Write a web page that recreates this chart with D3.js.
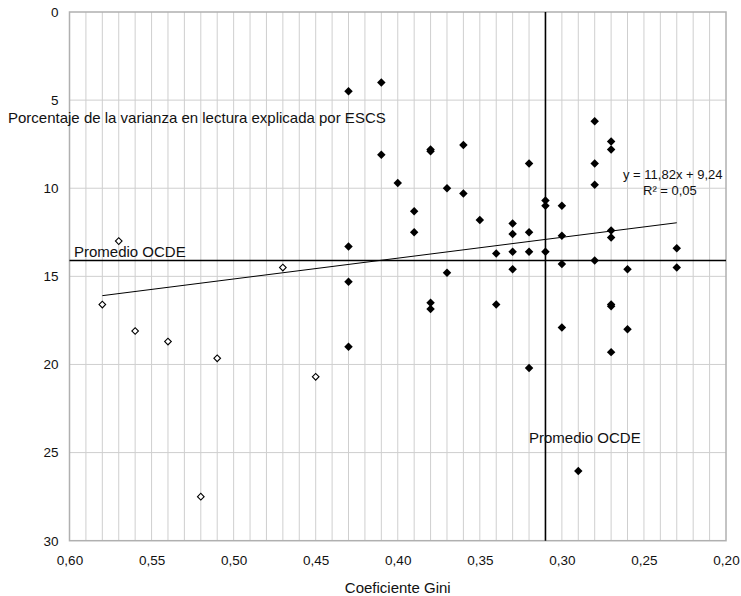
<!DOCTYPE html>
<html><head><meta charset="utf-8">
<script src="https://cdn.jsdelivr.net/npm/d3@7"></script>
<style>body{margin:0;background:#fff}svg{display:block}text{font-family:"Liberation Sans",Arial,sans-serif;fill:#111}</style>
</head><body><svg id="c" width="741" height="596"></svg>
<script>
// Filled diamonds (countries)
const filledGini = [0.43,0.43,0.43,0.43,0.41,0.41,0.40,0.39,0.39,0.38,0.38,0.38,0.38,0.37,0.37,0.36,0.36,0.35,0.34,0.34,0.33,0.33,0.33,0.33,0.32,0.32,0.32,0.32,0.31,0.31,0.31,0.30,0.30,0.30,0.30,0.29,0.28,0.28,0.28,0.28,0.27,0.27,0.27,0.27,0.27,0.27,0.27,0.26,0.26,0.23,0.23];
const filledVar  = [4.5,13.3,15.3,19.0,4.0,8.1,9.7,11.3,12.5,7.8,7.9,16.5,16.85,10.0,14.8,7.55,10.3,11.8,13.7,16.6,12.0,12.6,13.6,14.6,8.6,12.5,13.6,20.2,10.7,11.0,13.6,11.0,12.7,14.3,17.9,26.05,6.2,8.6,9.8,14.1,7.35,7.8,12.4,12.8,16.6,16.7,19.3,14.6,18.0,13.4,14.5];
// Open diamonds
const openGini = [0.58,0.57,0.56,0.54,0.52,0.51,0.47,0.45];
const openVar  = [16.6,13.0,18.1,18.7,27.5,19.65,14.5,20.7];
// Reference lines and trend
const oecdGini = 0.31, oecdVar = 14.1;
const trendSlope = 11.82, trendIntercept = 9.24, trendFrom = 0.58, trendTo = 0.23;
const xTicks = [0.60,0.55,0.50,0.45,0.40,0.35,0.30,0.25,0.20];
const yTicks = [0,5,10,15,20,25,30];
const xGrid = d3.range(59,20,-1).map(v=>v/100);

const W=741,H=596,m={l:69.5,t:12,r:15,b:55.3};
const svg=d3.select("#c");
const x=d3.scaleLinear().domain([0.60,0.20]).range([m.l,W-m.r]);
const y=d3.scaleLinear().domain([0,30]).range([m.t,H-m.b]);
const fmt=d3.format(".2f");

// grid
svg.append("g").selectAll("line").data(xGrid).join("line")
 .attr("x1",d=>x(d)).attr("x2",d=>x(d)).attr("y1",y(0)).attr("y2",y(30))
 .attr("stroke","#cfcfcf").attr("stroke-width",1);
svg.append("g").selectAll("line").data(yTicks.slice(1,-1)).join("line")
 .attr("y1",d=>y(d)).attr("y2",d=>y(d)).attr("x1",x(0.60)).attr("x2",x(0.20))
 .attr("stroke","#cfcfcf").attr("stroke-width",1);
svg.append("rect").attr("x",x(0.60)).attr("y",y(0)).attr("width",x(0.20)-x(0.60)).attr("height",y(30)-y(0))
 .attr("fill","none").attr("stroke","#b0b0b0").attr("stroke-width",1.5);

// axes (labels only)
const ya=svg.append("g").attr("transform",`translate(${m.l},0)`).call(d3.axisLeft(y).tickValues(yTicks).tickSize(0).tickPadding(11).tickFormat(d3.format("d")));
ya.select(".domain").remove();
ya.selectAll("text").style("font-size","13.5px").style("font-family","Liberation Sans, Arial, sans-serif").attr("fill","#111");
const xa=svg.append("g").attr("transform",`translate(0,${H-m.b})`).call(d3.axisBottom(x).tickValues(xTicks).tickSize(0).tickPadding(15).tickFormat(d=>fmt(d).replace(".",",")));
xa.select(".domain").remove();
xa.selectAll("text").style("font-size","13.5px").style("font-family","Liberation Sans, Arial, sans-serif").attr("fill","#111");

// axis titles
svg.append("text").attr("x",(x(0.60)+x(0.20))/2).attr("y",593).attr("text-anchor","middle").style("font-size","15px").text("Coeficiente Gini");
svg.append("text").attr("x",8).attr("y",122.5).style("font-size","15px").text("Porcentaje de la varianza en lectura explicada por ESCS");

// OECD lines
svg.append("line").attr("x1",x(0.60)).attr("x2",x(0.20)).attr("y1",y(oecdVar)).attr("y2",y(oecdVar)).attr("stroke","#000").attr("stroke-width",1.6);
svg.append("line").attr("x1",x(oecdGini)).attr("x2",x(oecdGini)).attr("y1",y(0)).attr("y2",y(30)).attr("stroke","#000").attr("stroke-width",1.6);
svg.append("text").attr("x",74).attr("y",y(oecdVar)-3).style("font-size","15px").text("Promedio OCDE");
svg.append("text").attr("x",529).attr("y",442.5).style("font-size","15px").text("Promedio OCDE");

// trend
svg.append("line").attr("x1",x(trendFrom)).attr("x2",x(trendTo))
 .attr("y1",y(trendSlope*trendFrom+trendIntercept)).attr("y2",y(trendSlope*trendTo+trendIntercept))
 .attr("stroke","#000").attr("stroke-width",1);
svg.append("text").attr("x",623).attr("y",179).style("font-size","13px").text("y = 11,82x + 9,24");
svg.append("text").attr("x",643).attr("y",195).style("font-size","13px").text("R² = 0,05");

// points
const sqF=d3.symbol().type(d3.symbolSquare).size(36)();
const sqO=d3.symbol().type(d3.symbolSquare).size(22)();
svg.append("g").selectAll("path").data(openGini.map((g,i)=>[g,openVar[i]])).join("path")
 .attr("d",sqO).attr("transform",d=>`translate(${x(d[0])},${y(d[1])}) rotate(45)`)
 .attr("fill","#fff").attr("stroke","#000").attr("stroke-width",1.1);
svg.append("g").selectAll("path").data(filledGini.map((g,i)=>[g,filledVar[i]])).join("path")
 .attr("d",sqF).attr("transform",d=>`translate(${x(d[0])},${y(d[1])}) rotate(45)`)
 .attr("fill","#000");
</script></body></html>
